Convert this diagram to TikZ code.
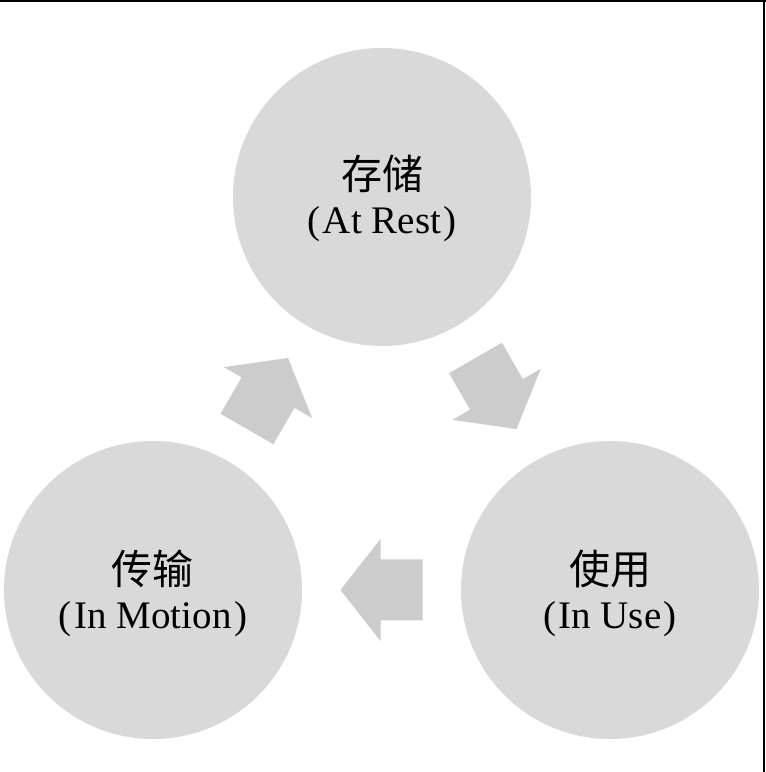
\documentclass[tikz,border=0pt]{standalone}
\usepackage{fontspec}
\setmainfont{Liberation Serif}
\newfontfamily\cjk{Noto Sans CJK SC}
\usetikzlibrary{calc}
\definecolor{circgray}{HTML}{D9D9D9}
\definecolor{arrgray}{HTML}{CCCCCC}
\tikzset{
  x=1pt,y=1pt,
  stage/.style={circle,fill=circgray,minimum size=298pt,inner sep=0pt},
  stagetext/.style={align=center,font=\fontsize{39}{44}\selectfont,text=black},
  blockarrow/.pic={\fill[arrgray] (-41,0) -- (-1,51) -- (-1,30.5) -- (41,30.5) -- (41,-30.5) -- (-1,-30.5) -- (-1,-51) -- cycle;}
}
\newcommand\cjkword[1]{{\cjk\fontsize{41}{44}\selectfont #1}}
\begin{document}
\begin{tikzpicture}
\useasboundingbox (0,0) rectangle (766,772);
\fill[white] (0,0) rectangle (766,772);
\draw[black,line width=2.5pt] (0,771) -- (766,771);
\draw[black,line width=2pt] (764,0) -- (764,772);
\node[stage] (rest) at (382,575) {};
\node[stage] (motion) at (153,182) {};
\node[stage] (use) at (610,182) {};
\node[stagetext] (restt) at ($(rest)+(0,-1)$) {\cjkword{存储}\\(\hspace{2.5pt}At Rest\hspace{2.5pt})};
\node[stagetext] (motiont) at ($(motion)+(0,-3)$) {\cjkword{传输}\\(\hspace{2.5pt}In Motion\hspace{2.5pt})};
\node[stagetext] (uset) at ($(use)+(0,-3)$) {\cjkword{使用}\\(\hspace{2.5pt}In Use\hspace{2.5pt})};
\pic[rotate=-120] at ($(motion)!0.5!(rest)$) {blockarrow};
\pic[rotate=120] at ($(rest)!0.5!(use)$) {blockarrow};
\pic at ($(use)!0.5!(motion)$) {blockarrow};
\end{tikzpicture}
\end{document}
